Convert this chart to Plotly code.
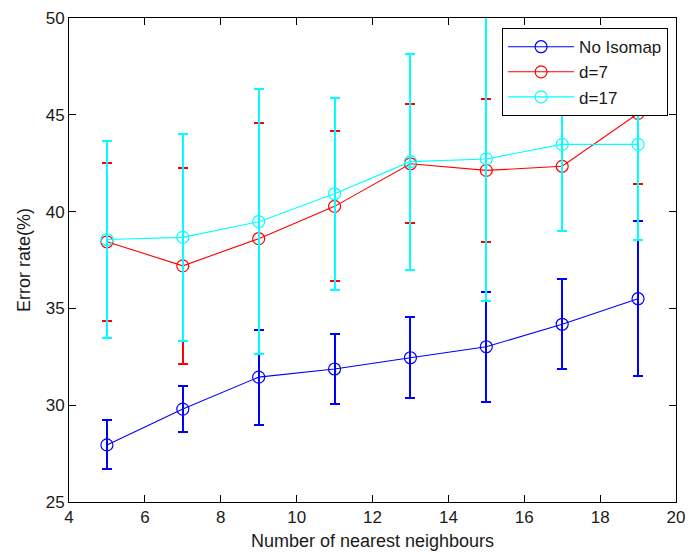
import plotly.graph_objects as go

# Number of nearest neighbours (k)
k_values = [5, 7, 9, 11, 13, 15, 17, 19]

# Mean error rate (%) and spread for each setting
no_isomap_mean = [27.95, 29.8, 31.45, 31.87, 32.45, 33.02, 34.18, 35.5]
no_isomap_err = [1.27, 1.2, 2.45, 1.82, 2.1, 2.83, 2.33, 4.0]

d7_mean = [38.44, 37.2, 38.6, 40.27, 42.47, 42.13, 42.34, 45.07]
d7_err = [4.09, 5.05, 5.97, 3.87, 3.07, 3.69, 3.32, 3.62]

d17_mean = [38.56, 38.67, 39.48, 40.92, 42.58, 42.72, 43.47, 43.47]
d17_err = [5.07, 5.34, 6.86, 4.97, 5.58, 7.33, 4.45, 4.95]

series = [
    ("No Isomap", no_isomap_mean, no_isomap_err, "#0000ff"),
    ("d=7", d7_mean, d7_err, "#ff0000"),
    ("d=17", d17_mean, d17_err, "#00ffff"),
]

x_ticks = [4, 6, 8, 10, 12, 14, 16, 18, 20]
y_ticks = [25, 30, 35, 40, 45, 50]

FONT = "Liberation Sans, Arial, sans-serif"
TEXT = "#1a1a1a"

fig = go.Figure()
for name, mean, err, color in series:
    fig.add_trace(go.Scatter(
        x=k_values,
        y=mean,
        name=name,
        mode="lines+markers",
        line=dict(color=color, width=1.1),
        marker=dict(symbol="circle-open", size=12, color=color,
                    line=dict(color=color, width=1.2)),
        error_y=dict(type="data", array=err, visible=True,
                     color=color, thickness=2, width=5),
    ))

axis_common = dict(
    showgrid=False,
    zeroline=False,
    showline=True,
    linecolor="#000000",
    linewidth=1,
    mirror="ticks",
    ticks="inside",
    ticklen=7,
    tickcolor="#000000",
    tickwidth=1,
    ticklabeloverflow="allow",
    tickfont=dict(family=FONT, size=17, color=TEXT),
)

fig.update_xaxes(
    range=[4, 20],
    tickvals=x_ticks,
    ticktext=[str(v) for v in x_ticks],
    title=dict(text="Number of nearest neighbours",
               font=dict(family=FONT, size=18, color=TEXT),
               standoff=7),
    **axis_common,
)
fig.update_yaxes(
    range=[25, 50],
    tickvals=y_ticks,
    ticktext=[str(v) for v in y_ticks],
    title=dict(text="Error rate(%)",
               font=dict(family=FONT, size=18, color=TEXT),
               standoff=10),
    **axis_common,
)

fig.update_layout(
    width=694,
    height=556,
    autosize=False,
    margin=dict(l=69, r=9, t=17, b=53),
    paper_bgcolor="#ffffff",
    plot_bgcolor="#ffffff",
    font=dict(family=FONT, size=17, color=TEXT),
    legend=dict(
        x=0.987, y=0.979, xanchor="right", yanchor="top",
        bgcolor="#ffffff",
        bordercolor="#000000",
        borderwidth=1,
        itemwidth=66,
        font=dict(family=FONT, size=17, color=TEXT),
    ),
)

# Snap error bars to whole pixels so overlapping bars do not blend.
crisp_bars = (
    "document.querySelectorAll('.errorbar path')"
    ".forEach(function(p){p.setAttribute('shape-rendering','crispEdges');});"
)

fig.write_html("out.html", post_script=crisp_bars)
